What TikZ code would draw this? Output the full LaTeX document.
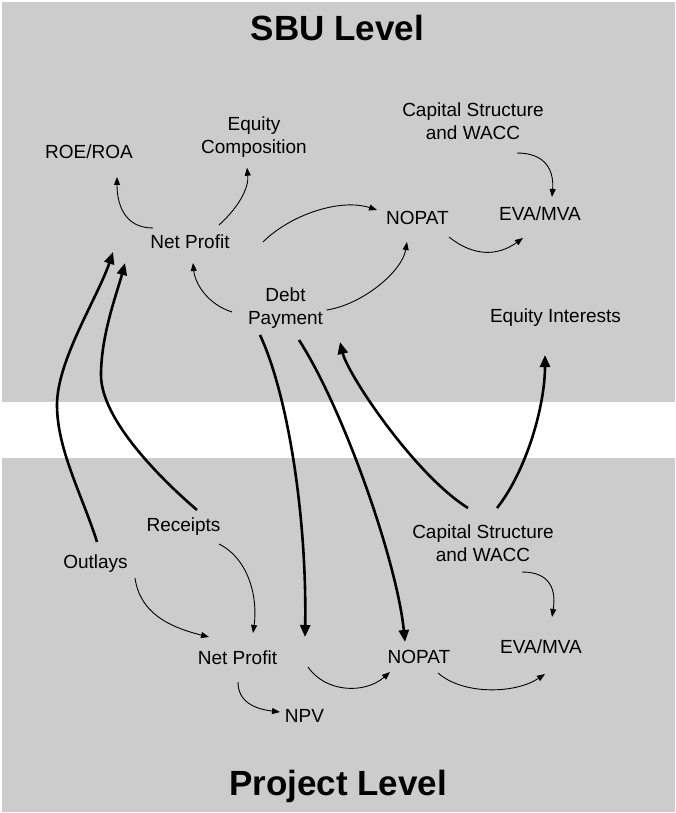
\documentclass[tikz,border=0pt]{standalone}
\usepackage{fontspec}
\setmainfont{Liberation Sans}
\usetikzlibrary{arrows.meta}
\definecolor{panel}{HTML}{CCCCCC}
\tikzset{
  lbl/.style={font=\fontsize{19}{23}\selectfont, align=center, inner sep=0pt},
  lvl/.style={font=\fontsize{35}{40}\selectfont\bfseries, inner sep=0pt, anchor=base},
  effect/.style={line width=0.9pt, -{Triangle[length=8pt,width=6pt]}},
  impact/.style={line width=2.6pt, -{Triangle[length=12pt,width=10pt]}},
}
\begin{document}
\begin{tikzpicture}[x=1pt,y=-1pt]
	\useasboundingbox (0,0) rectangle (675,813);
	% panels
	\fill[panel] (2,2) rectangle (675,402);
	\fill[panel] (2,458) rectangle (675,812);
	% SBU level
	\node[lvl] (sbu) at (337.5,41) {SBU Level};
	\node[lbl, anchor=base] (roe) at (89,159) {ROE/ROA};
	\node[lbl] (eqc) at (254,136.7) {Equity\\Composition};
	\node[lbl] (cap1) at (473,121.5) {Capital Structure\\and WACC};
	\node[lbl, anchor=base] (np1) at (190,248) {Net Profit};
	\node[lbl, anchor=base] (nopat1) at (417.5,224) {NOPAT};
	\node[lbl, anchor=base] (eva1) at (540,220) {EVA/MVA};
	\node[lbl] (debt) at (285.5,308.5) {Debt\\Payment};
	\node[lbl, anchor=base] (eqi) at (555.5,322) {Equity Interests};
	% Project level
	\node[lbl, anchor=base] (rec) at (183.5,531) {Receipts};
	\node[lbl, anchor=base] (outl) at (95.5,568) {Outlays};
	\node[lbl] (cap2) at (483,543.5) {Capital Structure\\and WACC};
	\node[lbl, anchor=base] (np2) at (237.5,664) {Net Profit};
	\node[lbl, anchor=base] (nopat2) at (419,663) {NOPAT};
	\node[lbl, anchor=base] (eva2) at (541,653) {EVA/MVA};
	\node[lbl, anchor=base] (npv) at (304.5,722) {NPV};
	\node[lvl] (prj) at (338,795) {Project Level};
	% links inside SBU level
	\draw[effect] ([shift={(-37,-20)}]np1.base) .. controls +(-30,0) and +(0,25) .. ([shift={(28,18)}]roe.base);
	\draw[effect] ([shift={(29,-23)}]np1.base) .. controls +(20,-18) and +(2,20) .. ([shift={(-7,31)}]eqc.center);
	\draw[effect] ([shift={(73,-6)}]np1.base) .. controls +(27,-27) and +(-37,-12) .. ([shift={(-40.5,-14)}]nopat1.base);
	\draw[effect] ([shift={(-53.5,3.5)}]debt.center) .. controls +(-25,-8) and +(2,20) .. ([shift={(3,15)}]np1.base);
	\draw[effect] ([shift={(41,1.5)}]debt.center) .. controls +(35,-5) and +(-5,30) .. ([shift={(-10.5,18)}]nopat1.base);
	\draw[effect] ([shift={(44,31.5)}]cap1.center) .. controls +(30,0) and +(2,-25) .. ([shift={(12,-23)}]eva1.base);
	\draw[effect] ([shift={(31.5,13)}]nopat1.base) .. controls +(25,20) and +(-25,18) .. ([shift={(-17,18)}]eva1.base);
	% links between the levels
	\draw[impact] ([shift={(1.5,-26)}]outl.base) .. controls +(-14,-45) and +(0,45) .. (57,405)
		.. controls +(0,-45) and +(-15,45) .. ([shift={(-77,4)}]np1.base);
	\draw[impact] ([shift={(13.5,-21)}]rec.base) .. controls +(-35,-30) and +(0,45) .. (101,375)
		.. controls +(0,-40) and +(-8,30) .. ([shift={(-65,15)}]np1.base);
	\draw[impact] ([shift={(-25.5,26.5)}]debt.center) .. controls +(28,60) and +(2,-120) .. ([shift={(67.5,-27)}]np2.base);
	\draw[impact] ([shift={(13.5,31.5)}]debt.center) .. controls +(45,70) and +(-8,-80) .. ([shift={(-14,-21)}]nopat2.base);
	\draw[impact] ([shift={(-15,-35.5)}]cap2.center) .. controls +(-53,-33) and +(8,33) .. ([shift={(54.5,33.5)}]debt.center);
	\draw[impact] ([shift={(14,-35.5)}]cap2.center) .. controls +(30,-38) and +(0,50) .. ([shift={(-10.5,33)}]eqi.base);
	% links inside project level
	\draw[effect] ([shift={(39.5,10)}]outl.base) .. controls +(5,35) and +(-40,-10) .. ([shift={(-28.5,-27)}]np2.base);
	\draw[effect] ([shift={(35.5,13)}]rec.base) .. controls +(30,15) and +(5,-35) .. ([shift={(15.5,-31)}]np2.base);
	\draw[effect] ([shift={(0.5,18)}]np2.base) .. controls +(0,20) and +(-25,-3) .. ([shift={(-24.5,-10)}]npv.base);
	\draw[effect] ([shift={(70.5,3)}]np2.base) .. controls +(18,26) and +(-25,22) .. ([shift={(-29,9)}]nopat2.base);
	\draw[effect] ([shift={(39,28.5)}]cap2.center) .. controls +(30,0) and +(4,-25) .. ([shift={(11,-36)}]eva2.base);
	\draw[effect] ([shift={(19,10)}]nopat2.base) .. controls +(25,22) and +(-30,20) .. ([shift={(4,21)}]eva2.base);
\end{tikzpicture}
\end{document}
